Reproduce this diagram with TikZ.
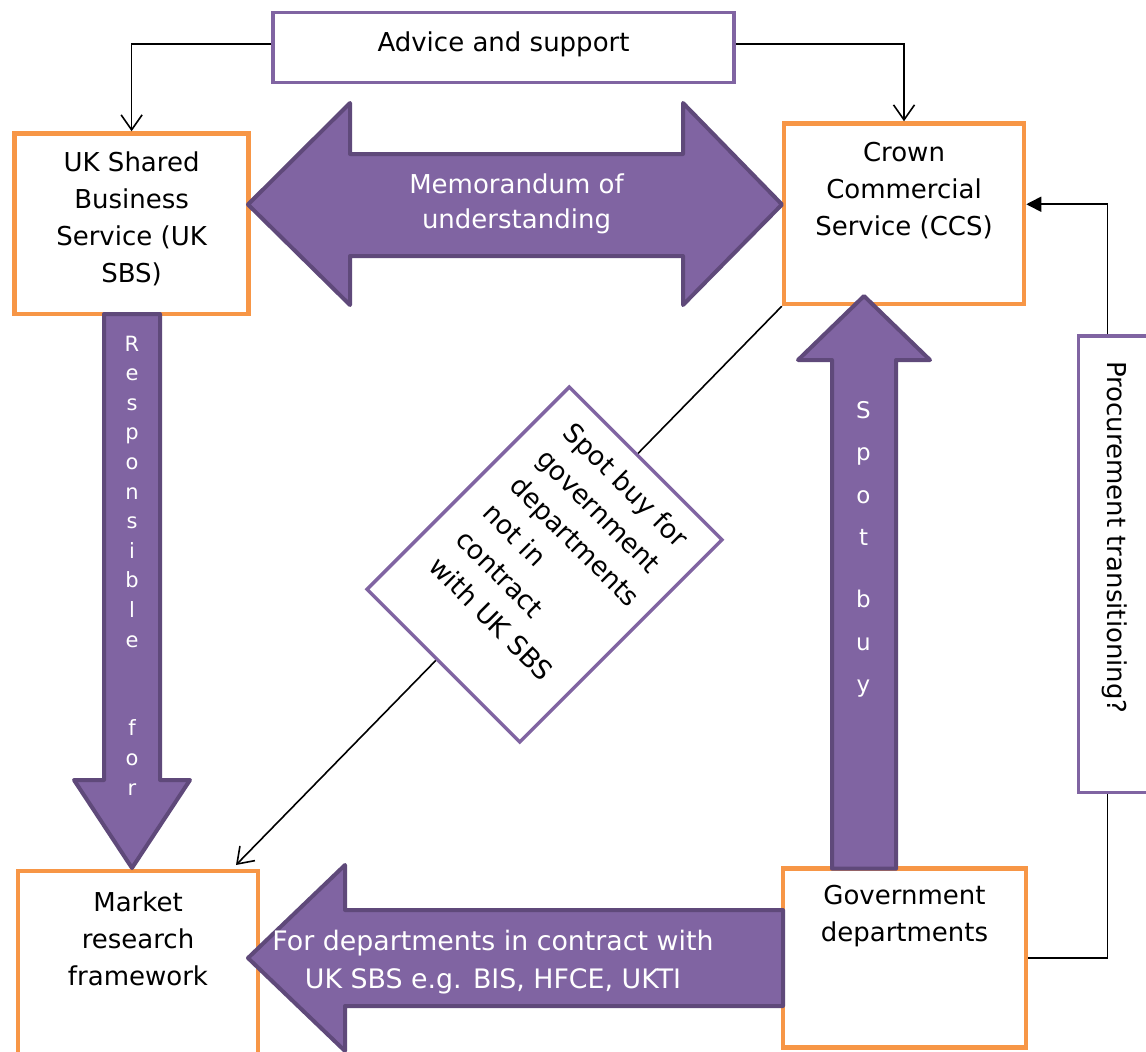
\documentclass[tikz,border=0pt]{standalone}
\usepackage{fontspec}
\setmainfont{DejaVu Sans}
\usetikzlibrary{arrows.meta,calc}
\definecolor{orng}{HTML}{F79646}
\definecolor{purp}{HTML}{8064A2}
\definecolor{purpdk}{HTML}{5F497A}
\begin{document}
\begin{tikzpicture}[x=1pt,y=-1pt,
  obox/.style={draw=orng,line width=4.5pt,fill=white,rectangle,inner sep=0pt},
  pbox/.style={draw=purp,line width=3.5pt,fill=white,rectangle,inner sep=0pt},
  txt/.style={font=\fontsize{26}{37}\selectfont,align=center,inner sep=0pt,text=black},
  wtxt/.style={font=\fontsize{26}{35}\selectfont,align=center,inner sep=0pt,text=white},
  blk/.style={fill=purp,draw=purpdk,line width=4pt,line join=round},
  conn/.style={draw=black,line width=1.6pt},
  barb/.style={-{Straight Barb[length=15pt,width=21pt,line width=1.6pt]}},
]
\useasboundingbox (0,0) rectangle (1146,1052);
\fill[white] (0,0) rectangle (1146,1052);

% boxes
\node[pbox,minimum width=461,minimum height=70] (adv) at (503.5,47.5) {};
\node[obox,minimum width=234,minimum height=180.5] (sbs) at (131.6,223.75) {};
\node[obox,minimum width=240,minimum height=180.5] (ccs) at (904,213.75) {};
\node[obox,minimum width=240,minimum height=189] (mrf) at (138,965.5) {};
\node[obox,minimum width=243,minimum height=178.8] (gov) at (904.5,958.1) {};
\node[pbox,minimum width=81.7,minimum height=456.5] (proc) at (1119.2,564.25) {};

% connectors
\draw[conn,barb] ($(adv.west)+(0,-3.5)$) -| (sbs.north);
\draw[conn,barb] ($(adv.east)+(0,-3.5)$) -| (ccs.north);
\coordinate (procT) at ($(proc.north west)+(31,0)$);
\coordinate (procB) at ($(proc.south west)+(31,0)$);
\draw[conn] (gov.east) -| (procB);
\draw[conn,-{Triangle[length=15pt,width=15pt]}] (procT) |- ($(ccs.east)+(0,-9.5)$);
\coordinate (mrfin) at (236,865);
\draw[conn,barb] (ccs.south west) -- (mrfin);

% diamond
\node[pbox,rotate=-45,minimum width=216,minimum height=286] (diam) at (544.5,564.5) {};
\node[txt,rotate=-45,align=left,font=\fontsize{26.5}{38}\selectfont] (diamt) at (562,554.6)
  {Spot buy for\\government\\departments\\not in\\contract\\with UK SBS};

% block arrows
\draw[blk] (248,204.5) -- (350,103) -- (350,154) -- (683,154) -- (683,103) -- (782,204.5)
  -- (683,305) -- (683,256) -- (350,256) -- (350,305) -- cycle;
\draw[blk] (104,314) -- (160,314) -- (160,780) -- (190,780) -- (132,868) -- (74,780) -- (104,780) -- cycle;
\draw[blk] (832,868.7) -- (896,868.7) -- (896,360) -- (930,360) -- (864,296) -- (798,360) -- (832,360) -- cycle;
\draw[blk] (248,958) -- (345,865) -- (345,910) -- (783,910) -- (783,1006) -- (345,1006) -- (345,1051) -- cycle;

% texts
\node[txt] (advt) at (503.5,44) {Advice and support};
\node[txt] (sbst) at (131.6,219) {UK Shared\\Business\\Service (UK\\SBS)};
\node[txt] (ccst) at (904,191) {Crown\\Commercial\\Service (CCS)};
\node[txt] (mrft) at (138,938.5) {Market\\research\\framework};
\node[txt] (govt) at (904.5,916.5) {Government\\departments};
\node[txt,rotate=-90] (proct) at (1115,537.5) {Procurement transitioning?};
\node[wtxt] (memt) at (516.5,204) {Memorandum of\\understanding};
\node[wtxt,font=\fontsize{26.8}{38}\selectfont] (fort) at (493,962) {For departments in contract with\\UK SBS e.g. BIS, HFCE, UKTI};
\node[wtxt,font=\fontsize{21}{29.6}\selectfont] (respt) at (132,565.4)
  {R\\e\\s\\p\\o\\n\\s\\i\\b\\l\\e\\[59.2pt]f\\o\\r};
\node[wtxt,font=\fontsize{23}{42.5}\selectfont] (spott) at (863.5,549.4)
  {S\\p\\o\\t\\[19.5pt]b\\u\\y};
\end{tikzpicture}
\end{document}
